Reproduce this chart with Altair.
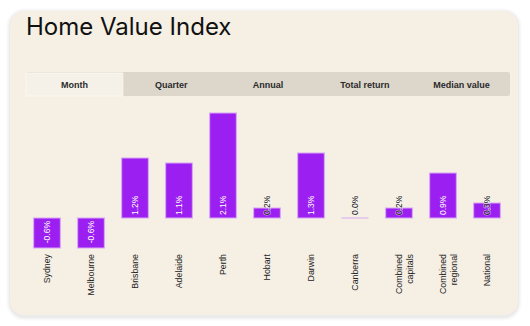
import altair as alt
import pandas as pd

# ---- data ----
cities = ["Sydney", "Melbourne", "Brisbane", "Adelaide", "Perth", "Hobart",
          "Darwin", "Canberra", "Combined capitals", "Combined regional", "National"]
values = [-0.6, -0.6, 1.2, 1.1, 2.1, 0.2, 1.3, 0.0, 0.2, 0.9, 0.3]
tabs = ["Month", "Quarter", "Annual", "Total return", "Median value"]
active_tab = "Month"
title_text = "Home Value Index"

bars_df = pd.DataFrame({"city": cities, "value": values})
bars_df["label"] = [f"{v:.1f}%" for v in values]
tabs_df = pd.DataFrame({"tab": tabs})

FONT = "Liberation Sans"
PURPLE = "#9b1ff0"
CARD = "#f5efe4"

def city_x():
    return alt.X("city:N", sort=cities, axis=None,
                 scale=alt.Scale(domain=cities, range=[25, 509],
                                 paddingInner=0.39, paddingOuter=0.195))

def tab_x():
    return alt.X("tab:N", sort=tabs, axis=None,
                 scale=alt.Scale(domain=tabs, range=[26, 510],
                                 paddingInner=0, paddingOuter=0))

yscale = alt.Scale(domain=[-2, 4], range=[318, 18])

base_dec = alt.Chart(pd.DataFrame({"a": [0]}))

# card shadow
shadows = []
for i, op in enumerate([0.03, 0.02, 0.014, 0.01]):
    g = i + 1
    shadows.append(base_dec.mark_rect(cornerRadius=14 + g, fill="#000", opacity=op).encode(
        x=alt.value(10 - g), x2=alt.value(518 + g),
        y=alt.value(11 - g + 1), y2=alt.value(315 + g + 2)))

card = base_dec.mark_rect(cornerRadius=14, fill=CARD).encode(
    x=alt.value(10), x2=alt.value(518), y=alt.value(11), y2=alt.value(315))

title = base_dec.mark_text(align="left", baseline="middle", fontSize=24, font="Inter",
                           color="#111").encode(
    x=alt.value(26), y=alt.value(28), text=alt.value(title_text))

tabbar = base_dec.mark_rect(cornerRadius=2, fill="#ddd6ca").encode(
    x=alt.value(26), x2=alt.value(510), y=alt.value(72), y2=alt.value(96))

tab_active = alt.Chart(tabs_df).transform_filter(
    alt.datum.tab == active_tab).mark_bar(fill="#f6f1e8", stroke="#fbf8f2", strokeWidth=1).encode(
    x=tab_x(), y=alt.value(73), y2=alt.value(96))

tab_text = alt.Chart(tabs_df).mark_text(baseline="middle", fontSize=9, fontWeight="bold",
                                        font=FONT, color="#2a2a2a").encode(
    x=tab_x(), y=alt.value(85), text="tab:N")

bars = alt.Chart(bars_df).mark_bar(color=PURPLE, stroke="#d9a8f5", strokeWidth=1.2).encode(
    x=city_x(), y=alt.Y("value:Q", scale=yscale, axis=None))

lab_color = alt.condition("abs(datum.value) >= 0.5", alt.value("white"), alt.value("#111"))

pos_halo = alt.Chart(bars_df).transform_filter(
    "datum.value >= 0 && abs(datum.value) < 0.5").mark_text(
    angle=270, align="left", baseline="middle", dx=3, fontSize=8.5, font=FONT,
    stroke="white", strokeWidth=1.5, strokeOpacity=0.55, fill="white", fillOpacity=0).encode(
    x=city_x(), y=alt.datum(0, scale=yscale), text="label:N")

pos_text = alt.Chart(bars_df).transform_filter("datum.value >= 0").mark_text(
    angle=270, align="left", baseline="middle", dx=3, fontSize=8.5, font=FONT).encode(
    x=city_x(), y=alt.datum(0, scale=yscale), text="label:N", color=lab_color)

neg_text = alt.Chart(bars_df).transform_filter("datum.value < 0").mark_text(
    angle=270, align="right", baseline="middle", dx=-3, fontSize=8.5, font=FONT).encode(
    x=city_x(), y=alt.datum(0, scale=yscale), text="label:N", color=lab_color)

cat_text = alt.Chart(bars_df).transform_calculate(
    lines="split(datum.city, ' ')").mark_text(
    angle=270, align="right", baseline="middle", fontSize=8.8, font=FONT,
    lineHeight=10.5, color="#222").encode(
    x=city_x(), y=alt.value(254), text="lines:N")

chart = alt.layer(*shadows, card, title, tabbar, tab_active, tab_text, bars,
                  pos_halo, pos_text, neg_text, cat_text).resolve_scale(
    x="independent").properties(
    width=530, height=326, padding=0, background="white",
    autosize=alt.AutoSizeParams(type="none")
).configure_view(stroke=None)

chart.save("out.html", embed_options={"renderer": "svg", "actions": False})
